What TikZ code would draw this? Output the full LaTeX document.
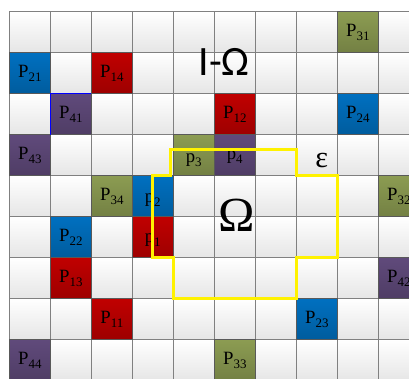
\documentclass[tikz,border=0pt]{standalone}
\usepackage{fontspec}
\setmainfont{Liberation Serif}
\newfontfamily\omsans{Carlito}
\definecolor{cred}{HTML}{C00000}
\definecolor{cblue}{HTML}{0070C0}
\definecolor{colive}{HTML}{8C9C52}
\definecolor{cpurple}{HTML}{604A7B}
\definecolor{gridgray}{HTML}{808080}
\newcommand{\plab}[2]{#1\raisebox{-0.45ex}{\fontsize{9}{10}\selectfont #2}}
\begin{document}
\begin{tikzpicture}[font=\fontsize{13}{15}\selectfont,
  blank/.style={top color=white, bottom color=black!10},
  gridline/.style={draw=gridgray, line width=0.9pt},
  region/.style={draw=yellow, line width=2pt}]
\useasboundingbox (-0.227,0.285) rectangle (9.749,-8.959);
\clip (-0.227,0.285) rectangle (9.749,-8.959);
% empty cells
\foreach \c in {0,...,9}
  \foreach \r in {0,...,8}
    \shade[blank] (\c,-\r) rectangle ++(1,-1);
\draw[gridline] (0,-9) grid (10,0);
% points outside the region
\foreach \c/\r/\col/\num in {8/0/colive/31, 0/1/cblue/21, 2/1/cred/14,
    1/2/cpurple/41, 5/2/cred/12, 8/2/cblue/24, 0/3/cpurple/43,
    2/4/colive/34, 9/4/colive/32, 1/5/cblue/22, 1/6/cred/13,
    9/6/cpurple/42, 2/7/cred/11, 7/7/cblue/23, 0/8/cpurple/44, 5/8/colive/33}
{
  \shade[top color=\col, bottom color=\col!82!black] (\c,-\r) rectangle ++(1,-1);
  \draw[black!65, line width=0.9pt] (\c,-\r) rectangle ++(1,-1);
  \node (P\num) at (\c+0.5,-\r-0.5) {\plab{P}{\num}};
}
\draw[blue, line width=0.6pt] (1,-3) |- (2,-2);
% points inside the region
\foreach \c/\r/\col/\num/\dy in {4/3/colive/3/0.12, 5/3/cpurple/4/0.04,
    3/4/cblue/2/0.1, 3/5/cred/1/0.07}
{
  \shade[top color=\col, bottom color=\col!82!black] (\c,-\r) rectangle ++(1,-1);
  \draw[black!65, line width=0.9pt] (\c,-\r) rectangle ++(1,-1);
  \node (p\num) at (\c+0.5,-\r-0.5-\dy) {\plab{p}{\num}};
}
% region boundary
\draw[region] (3.49,-4) -- (3.94,-4) -- (3.94,-3.36) -- (7,-3.36) -- (7,-4)
  -- (8,-4) -- (8,-6) -- (7,-6) -- (7,-7) -- (4,-7) -- (4,-6) -- (3.49,-6) -- cycle;
\node (omega) at (5.554,-4.96) {\fontsize{34}{36}\selectfont Ω};
\node (rest) at (5.237,-1.23) {\omsans\fontsize{29}{32}\selectfont I-Ω};
\node (eps) at (7.62,-3.63) {\fontsize{21}{24}\selectfont ε};
\end{tikzpicture}
\end{document}
